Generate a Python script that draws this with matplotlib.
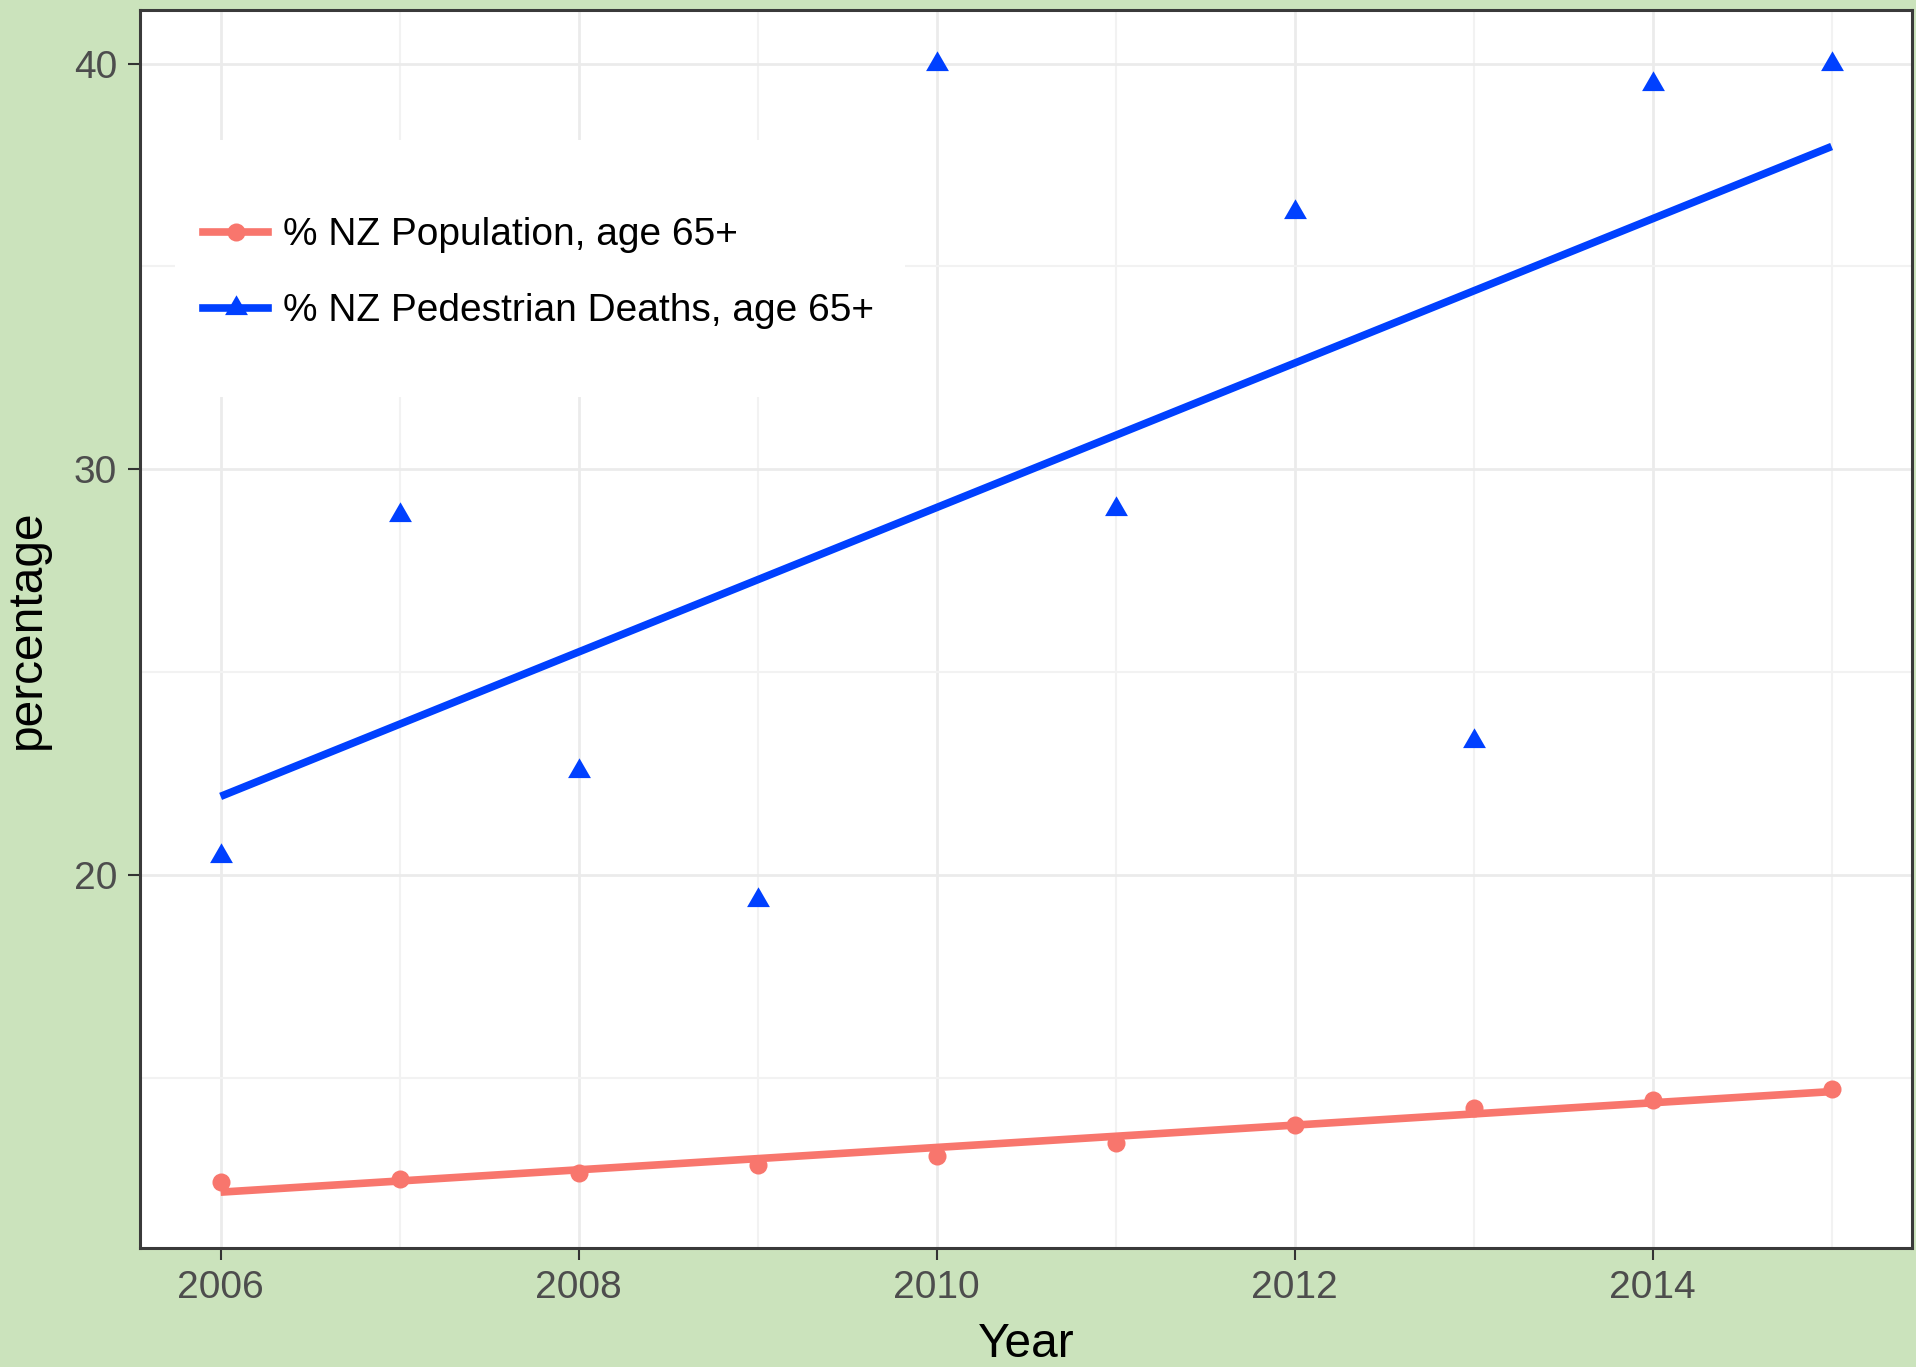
import numpy as np
import matplotlib
matplotlib.use("Agg")
import matplotlib.pyplot as plt
from matplotlib.patches import Rectangle
from matplotlib.ticker import FixedLocator
from matplotlib.lines import Line2D

# ---------------- data ----------------
years = [2006, 2007, 2008, 2009, 2010, 2011, 2012, 2013, 2014, 2015]
pop_65 = [12.44, 12.52, 12.66, 12.85, 13.08, 13.40, 13.85, 14.26, 14.45, 14.73]
ped_deaths_65 = [20.48, 28.88, 22.56, 19.38, 40.0, 29.03, 36.33, 23.31, 39.5, 40.0]
series_labels = ["% NZ Population, age 65+", "% NZ Pedestrian Deaths, age 65+"]
x_major = [2006, 2008, 2010, 2012, 2014]
x_minor = [2007, 2009, 2011, 2013, 2015]
y_major = [20, 30, 40]
y_minor = [15, 25, 35]
x_title = "Year"
y_title = "percentage"

# ---------------- style ----------------
RED = "#F8766D"
BLUE = "#0040FF"
BG = "#CBE3BC"
FONT = ["Liberation Sans", "DejaVu Sans"]
plt.rcParams["font.family"] = FONT

fig = plt.figure(figsize=(19.16, 13.67), dpi=100, facecolor=BG)
ax = fig.add_axes([0.0731, 0.0871, 0.9249, 0.9056])
ax.set_facecolor("white")

ax.set_xlim(2005.55, 2015.45)
ax.set_ylim(10.81, 41.32)

ax.xaxis.set_major_locator(FixedLocator(x_major))
ax.xaxis.set_minor_locator(FixedLocator(x_minor))
ax.yaxis.set_major_locator(FixedLocator(y_major))
ax.yaxis.set_minor_locator(FixedLocator(y_minor))
ax.set_xticklabels([str(v) for v in x_major])
ax.set_yticklabels([str(v) for v in y_major])

ax.grid(which="major", color="#EBEBEB", linewidth=2.0, zorder=0)
ax.grid(which="minor", color="#F2F2F2", linewidth=1.5, zorder=0)
ax.set_axisbelow(True)

for s in ax.spines.values():
    s.set_color("#3A3A3A")
    s.set_linewidth(2.2)

ax.tick_params(which="major", length=8.6, width=1.5, color="#333333",
               labelsize=28, labelcolor="#4D4D4D")
ax.tick_params(axis="x", which="major", pad=7.5)
ax.tick_params(axis="y", which="major", pad=8)
ax.tick_params(which="minor", length=0)

ax.set_xlabel(x_title, fontsize=34.5, color="black", labelpad=11)
ax.set_ylabel(y_title, fontsize=34.5, color="black", labelpad=17)

# triangle marker (equilateral, centroid centred)
tri = [(0, 1), (-0.866, -0.5), (0.866, -0.5), (0, 1)]

x = np.array(years, dtype=float)
y_pop = np.array(pop_65)
y_ped = np.array(ped_deaths_65)

# points
ax.plot(x, y_pop, linestyle="none", marker="o", markersize=13,
        color=RED, markeredgewidth=0, zorder=3)
ax.plot(x, y_ped, linestyle="none", marker=tri, markersize=19,
        color=BLUE, markeredgewidth=0, zorder=3)

# linear fits
xs = np.array([years[0], years[-1]], dtype=float)
c_pop = np.polyfit(x, y_pop, 1)
c_ped = np.polyfit(x, y_ped, 1)
ax.plot(xs, np.polyval(c_pop, xs), color=RED, linewidth=5.5,
        solid_capstyle="butt", zorder=4)
ax.plot(xs, np.polyval(c_ped, xs), color=BLUE, linewidth=5.5,
        solid_capstyle="butt", zorder=4)

# legend background box (inside panel)
ax.add_patch(Rectangle((0.0198, 0.6874), 0.4119, 0.2076, transform=ax.transAxes,
                       facecolor="white", edgecolor="none", zorder=5))

handles = [
    Line2D([0], [0], color=RED, linewidth=5.5, marker="o", markersize=13,
           markeredgewidth=0),
    Line2D([0], [0], color=BLUE, linewidth=5.5, marker=tri, markersize=19,
           markeredgewidth=0),
]
leg = ax.legend(handles, series_labels, loc="center left",
                bbox_to_anchor=(0.0356, 0.7872), frameon=False,
                fontsize=28, borderpad=0, borderaxespad=0,
                handlelength=1.67, handletextpad=0.39, labelspacing=1.03,
                numpoints=1)
leg.set_zorder(6)
for t in leg.get_texts():
    t.set_color("black")

fig.savefig("out.png", dpi=100, facecolor=BG)
